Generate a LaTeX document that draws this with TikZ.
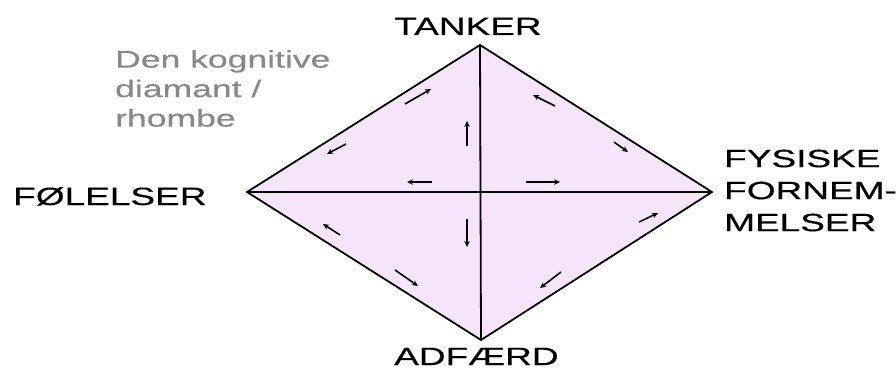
\documentclass[tikz,border=0pt]{standalone}
\usepackage{fontspec}
\setmainfont{Liberation Sans}
\newfontfamily\widefont[FakeStretch=1.48,FakeBold=0.4]{Liberation Sans}
\usetikzlibrary{arrows.meta}
\definecolor{diafill}{RGB}{246,228,250}
\definecolor{graytext}{RGB}{136,136,136}
\begin{document}
\begin{tikzpicture}[x=1pt,y=1pt,
  label/.style={inner sep=0pt, font=\widefont\fontsize{25}{32}\selectfont},
  edge/.style={line width=1.8pt, line join=round},
  flow/.style={line width=1.6pt, -{Stealth[length=6pt,width=5.5pt]}}]
\useasboundingbox (0,0) rectangle (896,370);
% diamond vertices
\coordinate (T) at (480,325);
\coordinate (L) at (247,178);
\coordinate (R) at (712,178);
\coordinate (B) at (481,30);
\fill[diafill] (T) -- (R) -- (B) -- (L) -- cycle;
\draw[edge] (T) -- (R) -- (B) -- (L) -- cycle;
\draw[edge] (T) -- (B);
\draw[edge] (L) -- (R);
% small arrows
\draw[flow] (405,266) -- (431,281);
\draw[flow] (346,226) -- (327,216);
\draw[flow] (467,224) -- (467,249);
\draw[flow] (432,188) -- (407,188);
\draw[flow] (526,188) -- (560,188);
\draw[flow] (555,264) -- (533,275);
\draw[flow] (614,228) -- (628,218);
\draw[flow] (639,148) -- (658,157);
\draw[flow] (561,98) -- (540,82);
\draw[flow] (467,151) -- (467,123);
\draw[flow] (340,135) -- (323,146);
\draw[flow] (395,100) -- (418,84);
% labels
\node[label, anchor=base] (tanker) at (468,335) {TANKER};
\node[label, anchor=base west] (folelser) at (13,165) {FØLELSER};
\node[label, anchor=base west] (adfaerd) at (394,5) {ADFÆRD};
\node[label, anchor=north west, align=left] (fysiske) at (724,220.5)
  {FYSISKE\\FORNEM-\\MELSER};
\node[label, anchor=north west, align=left, text=graytext,
  font=\widefont\fontsize{24}{29.5}\selectfont] (title) at (115,320)
  {Den kognitive\\diamant /\\rhombe};
\end{tikzpicture}
\end{document}
